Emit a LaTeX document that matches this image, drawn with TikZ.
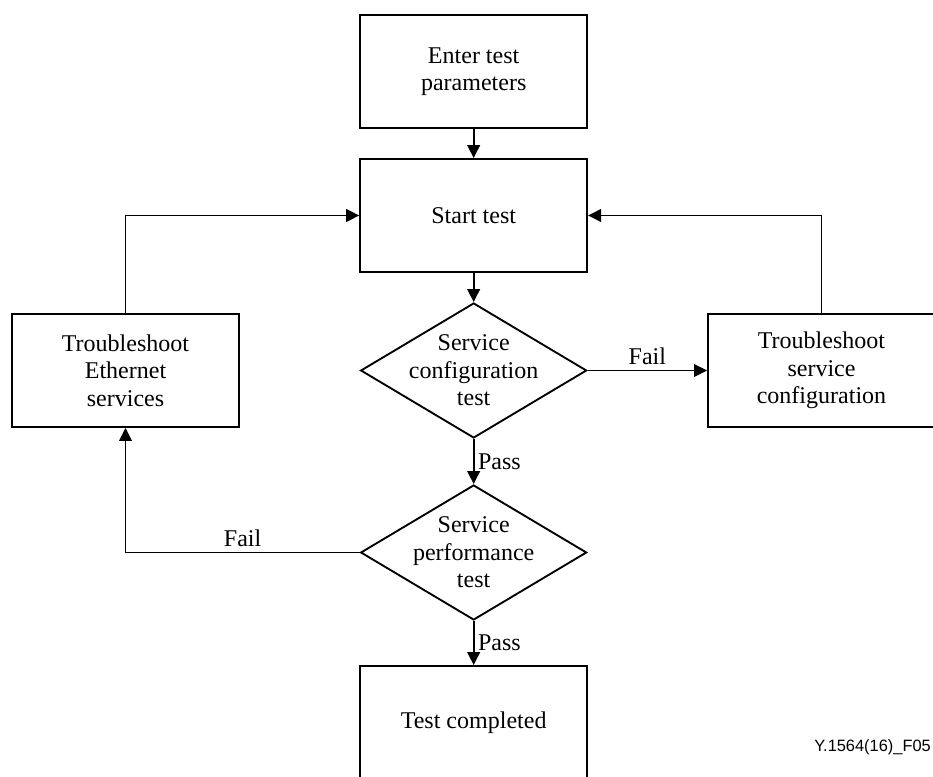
\documentclass[tikz,border=0pt]{standalone}
\usepackage{fontspec}
\setmainfont{Liberation Serif}
\newfontfamily\figsans{Liberation Sans}
\usetikzlibrary{arrows.meta,shapes.geometric}

\begin{document}
\begin{tikzpicture}[
    blk/.style={draw,line width=1.6pt,minimum width=6.81cm,minimum height=3.39cm,
                font=\fontsize{20.5}{23.5}\selectfont,align=center,inner sep=0pt},
    dec/.style={draw,diamond,line width=1.6pt,minimum width=6.78cm,
                minimum height=4.05cm,inner sep=0pt},
    txt/.style={font=\fontsize{20.5}{23.5}\selectfont,align=center,inner sep=0pt},
    lbl/.style={font=\fontsize{20.5}{23.5}\selectfont,inner sep=2pt},
    arr/.style={-{Triangle[length=3.9mm,width=3.8mm]},line width=1.6pt}]
    \useasboundingbox (0,0) rectangle (27.99,23.28);
    \node[blk] (enter) at (14.21, 21.135) {Enter test\\parameters};
    \node[blk] (start) at (14.21, 16.815) {Start test};
    \node[dec,label={[txt]center:Service\\configuration\\test}] (sct) at (14.21, 12.165) {};
    \node[dec,label={[txt]center:Service\\performance\\test}] (spt) at (14.21, 6.705) {};
    \node[blk] (done)  at (14.21, 1.605) {Test completed};
    \node[blk] (tse)   at (3.765, 12.165) {Troubleshoot\\Ethernet\\services};
    \node[blk] (tsc)   at (24.645, 12.165) {Troubleshoot\\service\\configuration};
    \node[anchor=east,inner sep=0pt,font=\figsans\fontsize{14}{16}\selectfont] (fig)
      at (27.93, 0.87) {Y.1564(16)\_F05};
    \foreach \a/\b in {enter/start,start/sct}
      \draw[arr] (\a)--(\b);
    \foreach \a/\b in {sct/spt,spt/done}
      \draw[arr] (\a)--node[lbl,right=1pt]{Pass}(\b);
    \draw[arr] (sct.east)--node[lbl,above=2pt]{Fail}(tsc.west);
    \draw[arr] (spt.west)-|node[lbl,above=2pt,pos=0.25]{Fail}(tse.south);
    \draw[arr] (tse.north)|-(start.west);
    \draw[arr] (tsc.north)|-(start.east);
  \end{tikzpicture}
\end{document}
